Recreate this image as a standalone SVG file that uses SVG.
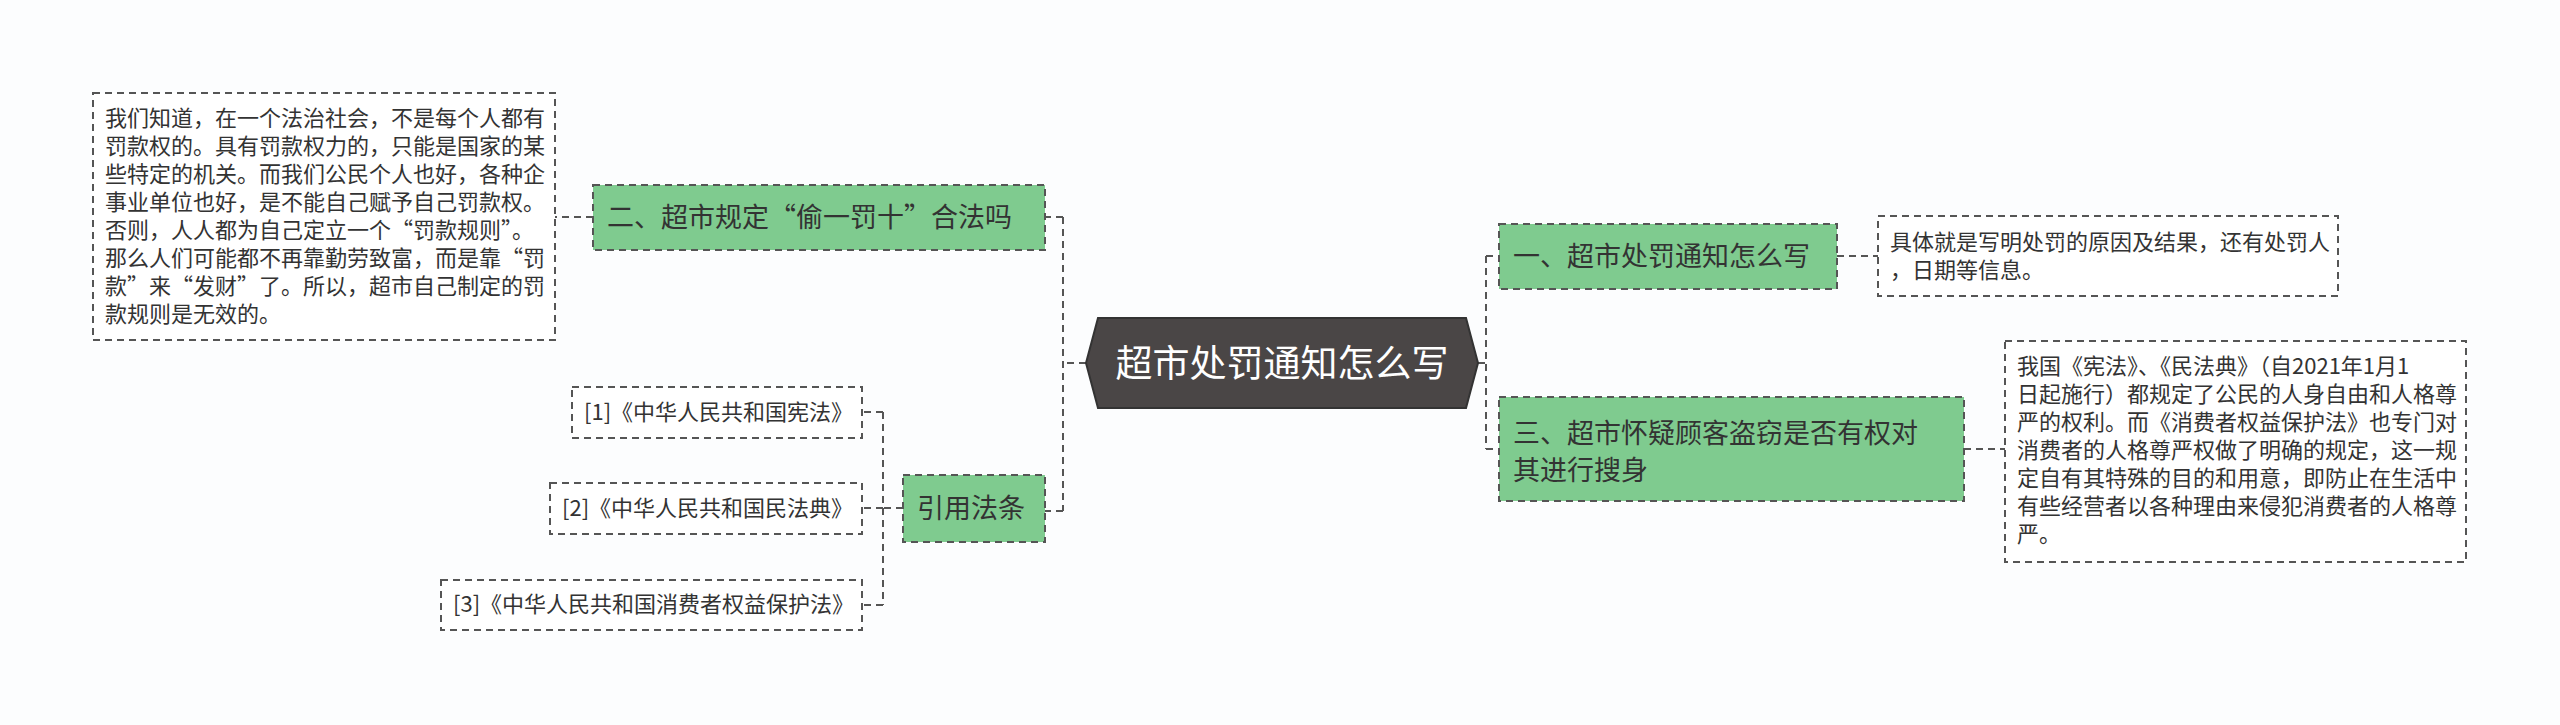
<svg xmlns="http://www.w3.org/2000/svg" width="2560" height="725" viewBox="0 0 2560 725">
<style>
text{font-family:"Noto Sans CJK SC","Noto Sans",sans-serif;fill:#333}
.n{fill:#7fcb8f;stroke:#555;stroke-width:2;stroke-dasharray:7 5}
.l{fill:#fff;stroke:#555;stroke-width:2;stroke-dasharray:7 5}
.c{fill:none;stroke:#555;stroke-width:2;stroke-dasharray:7 5}
.t1{font-size:27px}
.t2{font-size:22px}
</style>
<rect width="2560" height="725" fill="#fcfdfe"/>
<g id="connectors">
<path class="c" d="M1086 363H1063M1063 217V511M1063 217H1045M1063 511H1045"/>
<path class="c" d="M1478 363H1486M1486 256V449M1486 256H1499M1486 449H1499"/>
<path class="c" d="M903 508H883M883 412V605M883 412H862M883 508H862M883 605H862"/>
<path class="c" d="M593 217H555M1837 256H1878M1964 449H2005"/>
</g>
<g id="center">
<polygon points="1098,318 1466,318 1478,363 1466,408 1098,408 1086,363" fill="#4a4646" stroke="#333" stroke-width="2"/>
<text x="1282" y="377" font-size="37" text-anchor="middle" style="fill:#fff">超市处罚通知怎么写</text>
</g>
<g id="n1"><rect class="n" x="1499" y="224" width="338" height="65"/>
<text class="t1" x="1513" y="266">一、超市处罚通知怎么写</text></g>
<g id="l1"><rect class="l" x="1878" y="216" width="460" height="80"/>
<text class="t2" x="1890" y="250">具体就是写明处罚的原因及结果，还有处罚人</text>
<text class="t2" x="1890" y="278">，日期等信息。</text></g>
<g id="n3"><rect class="n" x="1499" y="397" width="465" height="104"/>
<text class="t1" x="1513" y="443">三、超市怀疑顾客盗窃是否有权对</text>
<text class="t1" x="1513" y="480">其进行搜身</text></g>
<g id="l3"><rect class="l" x="2005" y="341" width="461" height="221"/>
<g class="t2">
<text x="2017" y="374">我国《宪法》、《民法典》（自2021年1月1</text>
<text x="2017" y="402">日起施行）都规定了公民的人身自由和人格尊</text>
<text x="2017" y="430">严的权利。而《消费者权益保护法》也专门对</text>
<text x="2017" y="458">消费者的人格尊严权做了明确的规定，这一规</text>
<text x="2017" y="486">定自有其特殊的目的和用意，即防止在生活中</text>
<text x="2017" y="514">有些经营者以各种理由来侵犯消费者的人格尊</text>
<text x="2017" y="542">严。</text></g></g>
<g id="n2"><rect class="n" x="593" y="185" width="452" height="65"/>
<text class="t1" x="607" y="227">二、超市规定“偷一罚十”合法吗</text></g>
<g id="l2"><rect class="l" x="93" y="93" width="462" height="247"/>
<g class="t2">
<text x="105" y="126">我们知道，在一个法治社会，不是每个人都有</text>
<text x="105" y="154">罚款权的。具有罚款权力的，只能是国家的某</text>
<text x="105" y="182">些特定的机关。而我们公民个人也好，各种企</text>
<text x="105" y="210">事业单位也好，是不能自己赋予自己罚款权。</text>
<text x="105" y="238">否则，人人都为自己定立一个“罚款规则”。</text>
<text x="105" y="266">那么人们可能都不再靠勤劳致富，而是靠“罚</text>
<text x="105" y="294">款”来“发财”了。所以，超市自己制定的罚</text>
<text x="105" y="322">款规则是无效的。</text></g></g>
<g id="n4"><rect class="n" x="903" y="475" width="142" height="67"/>
<text class="t1" x="917" y="518">引用法条</text></g>
<g id="r1"><rect class="l" x="572" y="387" width="290" height="51"/>
<text class="t2" x="584" y="420">[1]《中华人民共和国宪法》</text></g>
<g id="r2"><rect class="l" x="550" y="483" width="312" height="51"/>
<text class="t2" x="562" y="516">[2]《中华人民共和国民法典》</text></g>
<g id="r3"><rect class="l" x="441" y="580" width="421" height="50"/>
<text class="t2" x="453" y="612">[3]《中华人民共和国消费者权益保护法》</text></g>
</svg>
